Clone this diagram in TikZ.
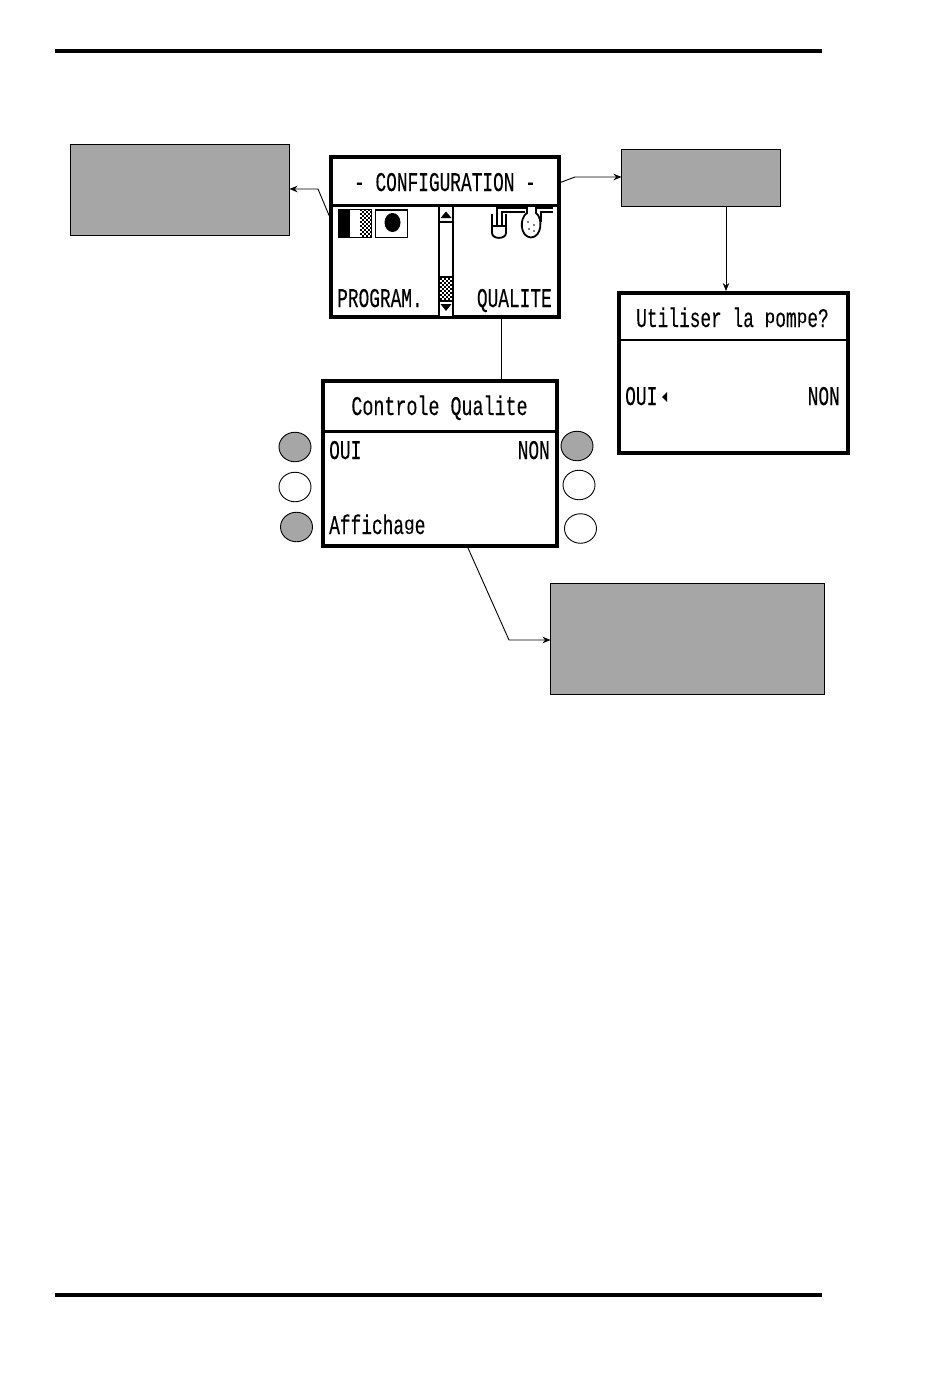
\documentclass[tikz,border=0pt]{standalone}
\usepackage{fontspec}
\newfontfamily\lcd[FakeStretch=0.66,FakeBold=0.2]{Liberation Mono}
\usetikzlibrary{arrows.meta,shapes.geometric}
\definecolor{boxgray}{HTML}{A6A6A6}
\definecolor{keygray}{HTML}{A6A6A6}
\newcommand{\lowp}{\raisebox{4pt}{\scalebox{1}[0.72]{p}}}
\newcommand{\lowg}{\raisebox{4pt}{\scalebox{1}[0.72]{g}}}
\tikzset{
  grayBox/.style={draw=black,line width=0.6pt,fill=boxgray,minimum width=#1,inner sep=0,outer sep=0,anchor=north west},
  screenA/.style={draw=black,line width=4pt,fill=white,inner sep=0,outer sep=0,anchor=north west},
  lcdText/.style={font=\lcd\fontsize{27}{27}\selectfont,inner sep=0,text=black,text height=18pt,text depth=0pt},
  keyOn/.style={ellipse,draw=black,line width=0.9pt,fill=keygray,minimum width=32pt,minimum height=29.5pt,inner sep=0},
  keyOff/.style={ellipse,draw=black,line width=0.9pt,fill=white,minimum width=32pt,minimum height=29.5pt,inner sep=0},
  link/.style={draw=black,line width=0.9pt},
  linkArrow/.style={link,-{Stealth[length=8pt,width=6.5pt]}},
  rulebar/.style={draw=black,line width=4pt}
}
\begin{document}
\begin{tikzpicture}[x=1pt,y=-1pt]
\useasboundingbox (0,0) rectangle (950,1379);
\fill[white] (0,0) rectangle (950,1379);
% rules
\coordinate (ruleTopL) at (55,51); \coordinate (ruleTopR) at (822,51);
\coordinate (ruleBotL) at (55,1295); \coordinate (ruleBotR) at (822,1295);
\draw[rulebar] (ruleTopL) -- (ruleTopR);
\draw[rulebar] (ruleBotL) -- (ruleBotR);
% gray boxes
\node[grayBox=219pt,minimum height=91pt] (noteA) at (70.5,144.5) {};
\node[grayBox=159pt,minimum height=57pt] (noteB) at (621.5,149.5) {};
\node[grayBox=274pt,minimum height=111pt] (noteC) at (550.5,583.5) {};
% screens
\node[screenA,minimum width=228pt,minimum height=160pt] (scrConf) at (331,157) {};
\node[screenA,minimum width=229pt,minimum height=160pt] (scrPump) at (619,293) {};
\node[screenA,minimum width=234pt,minimum height=165pt] (scrQual) at (323,381) {};
% dividers
\draw[line width=3pt] (scrConf.west |- 0,205) -- (scrConf.east |- 0,205);
\draw[line width=2pt] (scrPump.west |- 0,340) -- (scrPump.east |- 0,340);
\draw[line width=3pt] (scrQual.west |- 0,431) -- (scrQual.east |- 0,431);
% connectors
\coordinate (bendA) at (318,189);
\coordinate (bendB) at (575,177);
\coordinate (bendC) at (509,640);
\draw[linkArrow] (scrConf.west |- 0,220) -- (bendA) -- (noteA.east |- bendA);
\draw[linkArrow] (scrConf.east |- 0,183) -- (bendB) -- (noteB.west |- bendB);
\draw[linkArrow] (726,207) -- (726,291);
\draw[link] (501,318) -- (501,379);
\draw[linkArrow] (468,548) -- (bendC) -- (noteC.west |- bendC);
% scroll bar
\draw[line width=2pt] (438.5,205) -- (438.5,317);
\draw[line width=2pt] (453,205) -- (453,317);
\draw[line width=1.4pt] (439,222) -- (453,222);
\fill (446,211.5) -- (440.5,218) -- (451.5,218) -- cycle;
\fill (439,276) rectangle (453,302);
\fill[white] (440,278) rectangle (452,300);
\foreach \i in {0,...,5}{\foreach \j in {0,...,10}{
  \pgfmathtruncatemacro{\k}{mod(\i+\j,2)}
  \ifnum\k=0 \fill (440+2*\i,278+2*\j) rectangle +(2,2);\fi}}
\fill[white] (440,302) rectangle (452,316);
\fill (440.5,304) -- (451.5,304) -- (446,311) -- cycle;
% icon 1
\draw[line width=1pt] (338,209) rectangle (371,237);
\fill (338,209) rectangle (350,237);
\foreach \i in {0,...,5}{\foreach \j in {0,...,13}{
  \pgfmathtruncatemacro{\k}{mod(\i+\j,2)}
  \ifnum\k=0 \fill (360+2*\i,209+2*\j) rectangle +(2,2);\fi}}
% icon 2
\draw[line width=1pt] (375,209) rectangle (407,237);
\draw[line width=1pt] (375,210) -- (407,210);
\fill (392.5,222.5) ellipse (8 and 9.5);
% pump icon
\begin{scope}[line width=1.8pt]
\draw (492,214) -- (492,233) .. controls (492,239.5) and (506,239.5) .. (506,233) -- (506,214);
\draw (492,226) -- (506,226);
\draw (497,226) -- (497,208) -- (527,208);
\draw (502,226) -- (502,212) -- (525,212);
\draw (527,206) -- (527,213) .. controls (519,218) and (520,237) .. (531,237.5) .. controls (542,237) and (543,218) .. (536,213) -- (536,206);
\draw (536,208) -- (553,208);
\draw (541,222) -- (541,212) -- (553,212);
\end{scope}
\foreach \p in {(528,222),(534,225),(529,229),(534,231)} \fill \p circle (0.9);
% screen text
\node[lcdText] (tConf) at (445,182) {- CONFIGURATION -};
\node[lcdText,anchor=west] (tProg) at (337,298) {PROGRAM.};
\node[lcdText,anchor=east] (tQual) at (552,298) {QUALITE};
\node[lcdText] (tPump) at (732.5,318) {Utiliser la \lowp om\lowp e?};
\node[lcdText,anchor=west] (tOuiP) at (625,396) {OUI};
\node[lcdText,anchor=east] (tNonP) at (840,396) {NON};
\node[lcdText] (tCtrl) at (439.5,406) {\scalebox{1.03}[1]{Controle Qualite}};
\node[lcdText,anchor=west] (tOuiQ) at (329,450) {OUI};
\node[lcdText,anchor=east] (tNonQ) at (550,450) {NON};
\node[lcdText,anchor=west] (tAff) at (329,525) {Afficha\lowg e};
\fill (662,397) -- (667,392) -- (667,402) -- cycle;
% keys
\node[keyOn] (kL1) at (295,447) {};
\node[keyOff] (kL2) at (295,487) {};
\node[keyOn] (kL3) at (296.5,527) {};
\node[keyOn] (kR1) at (577,446) {};
\node[keyOff] (kR2) at (579,485) {};
\node[keyOff] (kR3) at (580.5,528.5) {};
\end{tikzpicture}
\end{document}
